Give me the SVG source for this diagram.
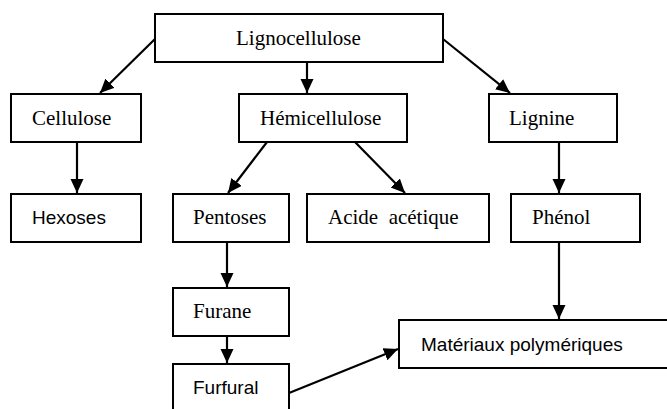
<svg xmlns="http://www.w3.org/2000/svg" width="667" height="409" viewBox="0 0 667 409">
<style>
rect.box{fill:#fff;stroke:#000;stroke-width:2}
text.t{font-family:"Liberation Serif","Times New Roman",serif;font-size:21px;fill:#000;white-space:pre}
text.s{font-family:"Liberation Sans",Arial,sans-serif;font-size:19px;fill:#000}
#connectors line{stroke:#000;stroke-width:2.2;fill:none}
</style>
<defs>
<marker id="arr" markerUnits="userSpaceOnUse" markerWidth="16" markerHeight="14" refX="14" refY="6.5" orient="auto">
<path d="M0,0 L14,6.5 L0,13 z" fill="#000"/>
</marker>
</defs>
<rect width="667" height="409" fill="#fff"/>
<g id="connectors">
<line x1="155" y1="39" x2="100" y2="93" marker-end="url(#arr)"/>
<line x1="307" y1="62" x2="307" y2="93" marker-end="url(#arr)"/>
<line x1="443" y1="39" x2="510" y2="93" marker-end="url(#arr)"/>
<line x1="77" y1="142" x2="77" y2="193" marker-end="url(#arr)"/>
<line x1="267" y1="142" x2="228" y2="193" marker-end="url(#arr)"/>
<line x1="355" y1="142" x2="405" y2="193" marker-end="url(#arr)"/>
<line x1="559" y1="142" x2="559" y2="193" marker-end="url(#arr)"/>
<line x1="227" y1="242" x2="227" y2="287" marker-end="url(#arr)"/>
<line x1="227" y1="336" x2="227" y2="363" marker-end="url(#arr)"/>
<line x1="559" y1="242" x2="559" y2="319" marker-end="url(#arr)"/>
<line x1="289" y1="393" x2="398" y2="349" marker-end="url(#arr)"/>
</g>
<g id="lignocellulose"><rect class="box" x="155" y="14" width="288" height="48"/><text class="t" x="236" y="45">Lignocellulose</text></g>
<g id="cellulose"><rect class="box" x="11" y="94" width="130" height="48"/><text class="t" x="32" y="125">Cellulose</text></g>
<g id="hemicellulose"><rect class="box" x="239" y="94" width="168" height="48"/><text class="t" x="260" y="125">Hémicellulose</text></g>
<g id="lignine"><rect class="box" x="489" y="94" width="128" height="48"/><text class="t" x="509" y="125">Lignine</text></g>
<g id="hexoses"><rect class="box" x="11" y="194" width="130" height="48"/><text class="s" x="32" y="224">Hexoses</text></g>
<g id="pentoses"><rect class="box" x="173" y="194" width="116" height="48"/><text class="t" x="193" y="224">Pentoses</text></g>
<g id="acide"><rect class="box" x="307" y="194" width="182" height="48"/><text class="t" x="328" y="224">Acide  acétique</text></g>
<g id="phenol"><rect class="box" x="511" y="194" width="129" height="48"/><text class="t" x="532" y="224">Phénol</text></g>
<g id="furane"><rect class="box" x="173" y="288" width="116" height="48"/><text class="t" x="193" y="318">Furane</text></g>
<g id="furfural"><rect class="box" x="173" y="364" width="116" height="60"/><text class="s" x="193" y="394">Furfural</text></g>
<g id="materiaux"><rect class="box" x="399" y="320" width="270" height="48"/><text class="s" x="421" y="351">Matériaux polymériques</text></g>
</svg>
